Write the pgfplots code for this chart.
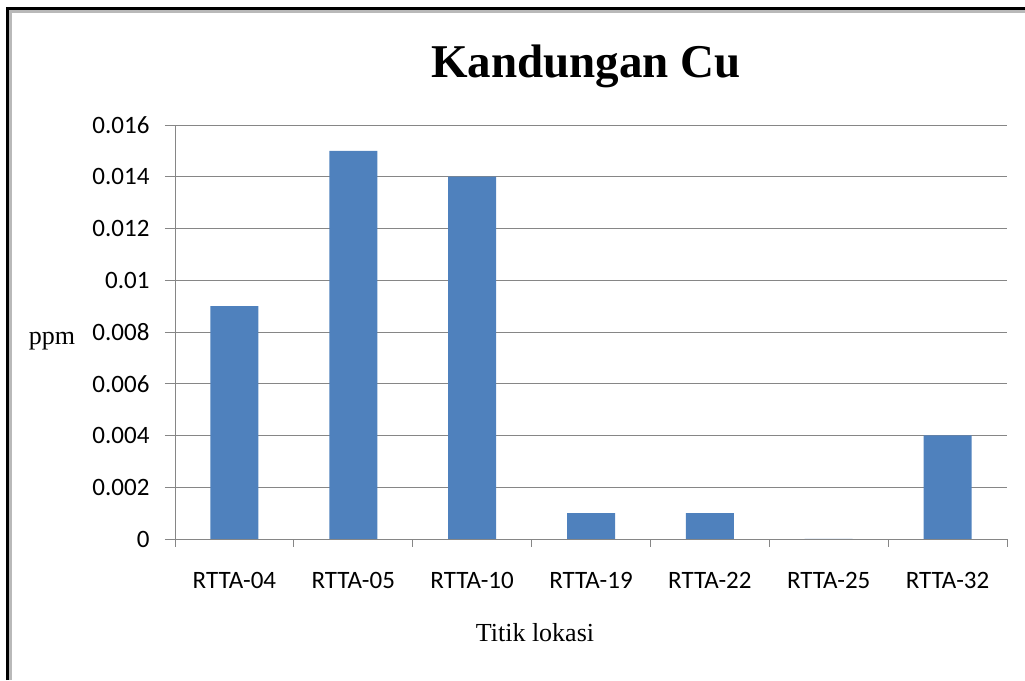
\documentclass[border=0pt]{standalone}
\usepackage{fontspec}
\setmainfont{Carlito}
\newfontfamily\tnr{Liberation Serif}
\usepackage{pgfplots}
\pgfplotsset{compat=1.18}
\definecolor{barblue}{HTML}{4F81BD}
\definecolor{gridgray}{HTML}{868686}

\begin{document}
\begin{tikzpicture}[x=1pt,y=1pt]
\path[use as bounding box] (0,0) rectangle (1025,680);
% outer frame, left and top only
\draw[black, line width=3pt] (7.5,0) -- (7.5,671.5) -- (1025,671.5);
\draw[gray!55, line width=2.5pt] (10.5,0) -- (10.5,668.5) -- (1025,668.5);

\begin{axis}[
  at={(175pt,141pt)}, anchor=south west,
  scale only axis, width=832pt, height=414pt,
  ybar, bar width=48pt,
  xmin=-0.5, xmax=6.5, ymin=0, ymax=0.016,
  xtick={0,...,6},
  xticklabels={RTTA-04,RTTA-05,RTTA-10,RTTA-19,RTTA-22,RTTA-25,RTTA-32},
  major x tick style={draw=none},
  minor xtick={-0.5,0.5,...,6.5},
  ytick={0,0.002,0.004,0.006,0.008,0.010,0.012,0.014,0.016},
  yticklabels={0,0.002,0.004,0.006,0.008,0.01,0.012,0.014,0.016},
  scaled y ticks=false,
  ymajorgrids, grid style={gridgray, line width=0.9pt},
  axis x line*=bottom, axis y line*=left,
  axis line style={-, gridgray, line width=0.9pt},
  tick align=outside, major tick length=10pt, minor tick length=8pt,
  tick style={gridgray, line width=0.9pt},
  ticklabel style={font=\fontsize{25}{30}\selectfont, text=black},
  xticklabel style={yshift=-20pt},
  yticklabel style={xshift=-12pt},
]
\addplot[fill=barblue, draw=none] coordinates {
(0,0.009) (1,0.015) (2,0.014) (3,0.001) (4,0.001) (5,0) (6,0.004)
};
\end{axis}

\node[anchor=base, font=\tnr\bfseries\fontsize{47}{56}\selectfont] at (586,602) {Kandungan Cu};
\node[anchor=base, font=\tnr\fontsize{26}{31}\selectfont] at (52,335) {ppm};
\node[anchor=base, font=\tnr\fontsize{26}{31}\selectfont] at (535,38) {Titik lokasi};
\end{tikzpicture}
\end{document}
